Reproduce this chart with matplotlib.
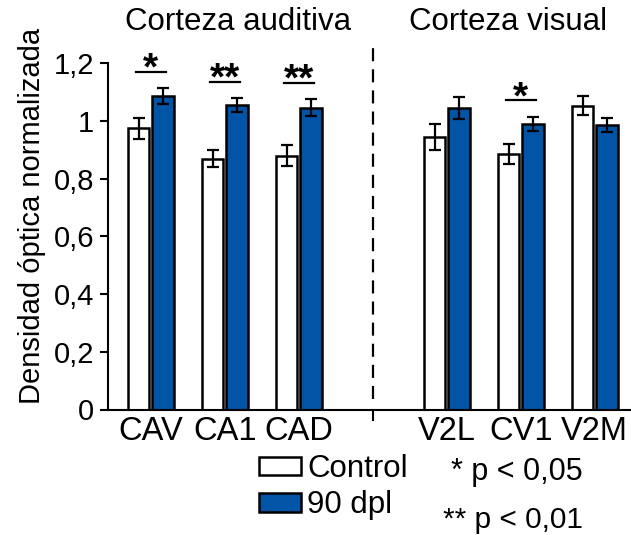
import matplotlib

matplotlib.use("Agg")
import matplotlib.pyplot as plt
from matplotlib.patches import Patch

plt.rcParams["font.family"] = ["Liberation Sans", "DejaVu Sans"]
plt.rcParams["lines.scale_dashes"] = False

# Densidad óptica normalizada por región
regions = ["CAV", "CA1", "CAD", "V2L", "CV1", "V2M"]
control = [0.975, 0.870, 0.880, 0.945, 0.887, 1.053]
control_err = [0.036, 0.030, 0.036, 0.046, 0.034, 0.033]
dpl90 = [1.087, 1.055, 1.047, 1.045, 0.989, 0.987]
dpl90_err = [0.028, 0.024, 0.030, 0.039, 0.024, 0.025]

# marcas de significancia: (índice de región, texto, altura de la línea)
signif = [(0, "*", 1.171), (1, "**", 1.137), (2, "**", 1.133), (4, "*", 1.073)]

BLUE = "#0254a6"

# dejar un hueco entre corteza auditiva y visual
xpos = [i if i < 3 else i + 1 for i in range(len(regions))]
off, w = 0.165, 0.29

fig = plt.figure(figsize=(6.31, 5.35), dpi=100)
ax = fig.add_axes([108 / 631, 1 - 409.5 / 535, 1 - 108 / 631, (409.5 - 63.5) / 535])

err_kw = dict(ecolor="black", elinewidth=1.6, capsize=4.6, capthick=1.6)
ax.bar([x - off for x in xpos], control, w, yerr=control_err, color="white",
       edgecolor="black", linewidth=1.8, error_kw=err_kw, zorder=2)
ax.bar([x + off for x in xpos], dpl90, w, yerr=dpl90_err, color=BLUE,
       edgecolor="black", linewidth=1.8, error_kw=err_kw, zorder=2)

for idx, txt, y in signif:
    x = xpos[idx]
    ax.plot([x - 0.2, x + 0.2], [y, y], color="black", lw=1.6, clip_on=False)
    ax.text(x, y - 0.028, txt, ha="center", va="baseline", fontsize=28,
            fontweight="bold", clip_on=False)

# separador entre cortezas
ax.plot([3, 3], [0.035, 1.266], color="black", lw=1.6, dashes=(9.4, 5.8),
        clip_on=False)

ax.set_xlim(-0.58, 6.49)
ax.set_ylim(0, 1.2)
ax.set_yticks([0, 0.2, 0.4, 0.6, 0.8, 1.0, 1.2])
ax.set_yticklabels(["0", "0,2", "0,4", "0,6", "0,8", "1", "1,2"])
ax.set_xticks(xpos)
ax.set_xticklabels(regions)
ax.set_xticks([3], minor=True)
ax.tick_params(axis="x", which="major", length=0, pad=5, labelsize=23.5)
ax.tick_params(axis="x", which="minor", length=8, width=1.5, direction="out")
ax.tick_params(axis="y", length=6, width=1.5, direction="out", labelsize=21, pad=4)
ax.set_ylabel("Densidad óptica normalizada", fontsize=21)
ax.yaxis.set_label_coords(-0.118, 0.559)

for side in ("top", "right"):
    ax.spines[side].set_visible(False)
for side in ("left", "bottom"):
    ax.spines[side].set_linewidth(1.5)

fig.text(238 / 631, 1 - 22 / 535, "Corteza auditiva", ha="center", va="center", fontsize=22.5)
fig.text(508 / 631, 1 - 22 / 535, "Corteza visual", ha="center", va="center", fontsize=22.5)

handles = [Patch(facecolor="white", edgecolor="black", linewidth=1.8, label="Control"),
           Patch(facecolor=BLUE, edgecolor="black", linewidth=1.8, label="90 dpl")]
fig.legend(handles=handles, loc="upper left", bbox_to_anchor=(259 / 631, 1 - 454 / 535),
           frameon=False, fontsize=22.5, handlelength=1.34, handleheight=0.55,
           handletextpad=0.2, labelspacing=0.2, borderaxespad=0, borderpad=0)

fig.text(583 / 631, 1 - 480 / 535, "* p < 0,05", ha="right", va="baseline", fontsize=22)
fig.text(583 / 631, 1 - 528 / 535, "** p < 0,01", ha="right", va="baseline", fontsize=21.5)

fig.savefig("out.png", dpi=100)
plt.close(fig)
